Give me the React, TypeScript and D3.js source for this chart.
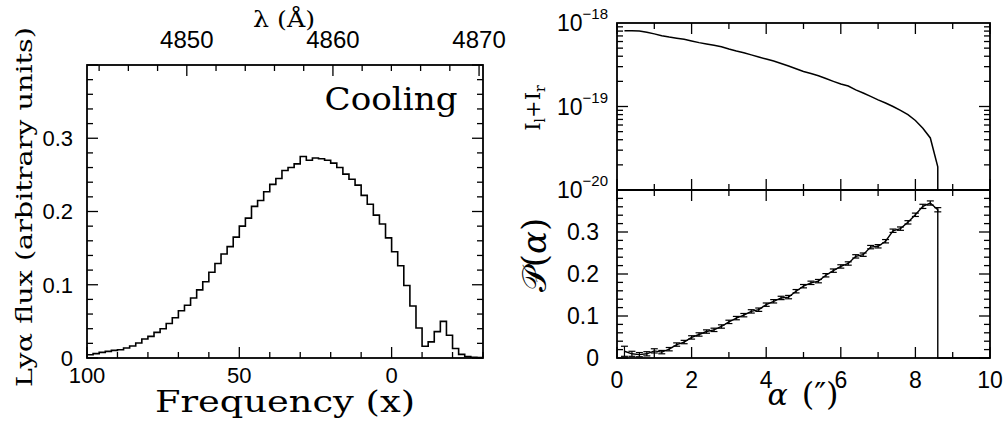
import React from "react";
import * as d3 from "d3";

// ---------- data ----------
// Left panel: Lyα flux histogram, bins of width 2 in x starting at x=100 going down to -30
const FREQ_BIN_EDGES = d3.range(100, -30, -2);
const FREQ_FLUX = [
  0.0045, 0.006, 0.0077, 0.009, 0.0104, 0.0113, 0.0136, 0.0164, 0.0205, 0.026,
  0.0295, 0.035, 0.04, 0.047, 0.055, 0.0645, 0.072, 0.082, 0.093, 0.104,
  0.117, 0.129, 0.142, 0.152, 0.165, 0.18, 0.191, 0.207, 0.215, 0.227,
  0.237, 0.245, 0.256, 0.26, 0.265, 0.275, 0.27, 0.273, 0.272, 0.27,
  0.266, 0.26, 0.251, 0.244, 0.236, 0.222, 0.21, 0.195, 0.183, 0.164,
  0.145, 0.126, 0.099, 0.071, 0.041, 0.016, 0.022, 0.036, 0.05, 0.031,
  0.013, 0.005, 0.002, 0.001, 0.0005,
];
const FREQ_TICK_LABELS = [100, 50, 0];
const LAMBDA_TICK_LABELS = [4850, 4860, 4870];
const FLUX_TICK_LABELS = [0, 0.1, 0.2, 0.3];

// Right panels: alpha grid
const ALPHA = [
  0.2, 0.4, 0.6, 0.8, 1.0, 1.2, 1.4, 1.6, 1.8, 2.0, 2.2, 2.4, 2.6, 2.8, 3.0,
  3.2, 3.4, 3.6, 3.8, 4.0, 4.2, 4.4, 4.6, 4.8, 5.0, 5.2, 5.4, 5.6, 5.8, 6.0,
  6.2, 6.4, 6.6, 6.8, 7.0, 7.2, 7.4, 7.6, 7.8, 8.0, 8.2, 8.4, 8.6,
];
// I_l + I_r (units of 1e-19)
const INTENSITY = [
  8.09, 8.07, 8.02, 7.76, 7.41, 7.05, 6.79, 6.58, 6.38, 6.1, 5.82, 5.6, 5.4, 5.19, 4.88,
  4.62, 4.4, 4.15, 3.91, 3.7, 3.51, 3.27, 3.05, 2.83, 2.63, 2.48, 2.33, 2.16, 2.0, 1.86,
  1.76, 1.58, 1.45, 1.32, 1.2, 1.1, 1.0, 0.9, 0.8, 0.68, 0.55, 0.42, 0.19,
];
const POLARIZATION = [
  0.016, 0.01, 0.008, 0.01, 0.017, 0.014, 0.021, 0.032, 0.038, 0.049, 0.056, 0.063, 0.067, 0.075, 0.086,
  0.095, 0.102, 0.111, 0.115, 0.127, 0.135, 0.143, 0.145, 0.159, 0.171, 0.179, 0.183, 0.197, 0.208, 0.218,
  0.225, 0.242, 0.246, 0.264, 0.266, 0.278, 0.303, 0.308, 0.323, 0.341, 0.361, 0.369, 0.353,
];
const POL_ERR = [
  0.012, 0.006, 0.005, 0.005, 0.005, 0.004, 0.004, 0.004, 0.004, 0.004, 0.004, 0.004, 0.004, 0.004, 0.004,
  0.004, 0.004, 0.004, 0.004, 0.004, 0.004, 0.004, 0.004, 0.004, 0.004, 0.004, 0.004, 0.004, 0.004, 0.004,
  0.004, 0.004, 0.004, 0.004, 0.004, 0.004, 0.004, 0.004, 0.004, 0.004, 0.005, 0.005, 0.005,
];
const ALPHA_TICK_LABELS = [0, 2, 4, 6, 8, 10];
const LOG_TICK_EXPONENTS = [-18, -19, -20];
const POL_TICK_LABELS = [0, 0.1, 0.2, 0.3];

// ---------- layout ----------
const W = 1008;
const H = 421;
const SANS = "Liberation Sans, Arial, sans-serif";
const SERIF = "DejaVu Serif, serif";
const MAJ = 11;
const MIN = 6;

export default function App() {
  // left panel scales
  const xF = d3.scaleLinear().domain([100, -30]).range([87, 483]);
  const yF = d3.scaleLinear().domain([0, 0.4]).range([358, 65]);
  const xL = d3.scaleLinear().domain([4843.17, 4870.27]).range([87, 483]);

  // right panel scales
  const xA = d3.scaleLinear().domain([0, 10]).range([617, 990]);
  const yI = d3.scaleLog().domain([1e-20, 1e-18]).range([190, 23]);
  const yP = d3.scaleLinear().domain([0, 0.4]).range([358, 190]);

  const stroke = "#000";

  // histogram path
  const histPts: [number, number][] = FREQ_FLUX.map((v, i) => [xF(FREQ_BIN_EDGES[i]), yF(v)]);
  histPts.push([xF(-30), yF(FREQ_FLUX[FREQ_FLUX.length - 1])]);
  const histPath = d3.line().curve(d3.curveStepAfter)(histPts) || "";

  // intensity line
  const intPts: [number, number][] = ALPHA.map((a, i) => [xA(a), yI(INTENSITY[i] * 1e-19)]);
  intPts.push([xA(ALPHA[ALPHA.length - 1]), yI(yI.domain()[0])]);
  const intPath = d3.line()(intPts) || "";

  // polarization line (drops to zero after last point and runs along the axis)
  const polPts: [number, number][] = ALPHA.map((a, i) => [xA(a), yP(POLARIZATION[i])]);
  polPts.push([xA(ALPHA[ALPHA.length - 1]), yP(0)]);
  polPts.push([xA(10), yP(0)]);
  const polPath = d3.line()(polPts) || "";

  const lines: JSX.Element[] = [];
  let k = 0;
  const L = (x1: number, y1: number, x2: number, y2: number, w = 1.3) => {
    lines.push(<line key={k++} x1={x1} y1={y1} x2={x2} y2={y2} stroke={stroke} strokeWidth={w} />);
  };

  // ---- left panel ticks ----
  d3.range(-30, 101, 10).forEach((v) => {
    const len = v % 50 === 0 ? MAJ : MIN;
    L(xF(v), 358, xF(v), 358 - len);
  });
  d3.range(4844, 4871, 2).forEach((v) => {
    const len = v % 10 === 0 ? MAJ : MIN;
    L(xL(v), 65, xL(v), 65 + len);
  });
  d3.range(0, 21).forEach((i) => {
    const v = i * 0.02;
    const len = i % 5 === 0 ? MAJ : MIN;
    L(87, yF(v), 87 + len, yF(v));
    L(483, yF(v), 483 - len, yF(v));
  });

  // ---- right panels x ticks ----
  d3.range(0, 11).forEach((v) => {
    const len = v % 2 === 0 ? MAJ : MIN;
    const x = xA(v);
    L(x, 23, x, 23 + len);
    L(x, 190, x, 190 - len);
    L(x, 190, x, 190 + len);
    L(x, 358, x, 358 - len);
  });
  // log ticks
  [-20, -19].forEach((e) => {
    d3.range(1, 10).forEach((m) => {
      const y = yI(m * Math.pow(10, e));
      const len = m === 1 ? MAJ : MIN;
      L(617, y, 617 + len, y);
      L(990, y, 990 - len, y);
    });
  });
  // pol ticks
  d3.range(0, 21).forEach((i) => {
    const v = i * 0.02;
    const len = i % 5 === 0 ? MAJ : MIN;
    L(617, yP(v), 617 + len, yP(v));
    L(990, yP(v), 990 - len, yP(v));
  });

  // error bars
  const errs = ALPHA.map((a, i) => {
    const x = xA(a);
    const y1 = yP(POLARIZATION[i] - POL_ERR[i]);
    const y2 = yP(POLARIZATION[i] + POL_ERR[i]);
    const c = 3.5;
    return (
      <g key={"e" + i} stroke={stroke} strokeWidth={1.2}>
        <line x1={x} y1={y1} x2={x} y2={y2} />
        <line x1={x - c} y1={y1} x2={x + c} y2={y1} />
        <line x1={x - c} y1={y2} x2={x + c} y2={y2} />
      </g>
    );
  });

  return (
    <svg
      width={W}
      height={H}
      style={{ position: "absolute", left: 0, top: 0, background: "#fff" }}
      xmlns="http://www.w3.org/2000/svg"
    >
      <rect x={0} y={0} width={W} height={H} fill="#fff" />
      {/* frames */}
      <rect x={87} y={65} width={396} height={293} fill="none" stroke={stroke} strokeWidth={1.8} />
      <rect x={617} y={23} width={373} height={335} fill="none" stroke={stroke} strokeWidth={1.8} />
      <line x1={617} y1={190} x2={990} y2={190} stroke={stroke} strokeWidth={1.8} />
      {lines}

      {/* data */}
      <path d={histPath} fill="none" stroke={stroke} strokeWidth={1.6} />
      <path d={intPath} fill="none" stroke={stroke} strokeWidth={1.5} />
      <path d={polPath} fill="none" stroke={stroke} strokeWidth={1.4} />
      {errs}

      {/* left panel labels */}
      <g fontFamily={SANS} fontSize={22} fill="#000">
        {FREQ_TICK_LABELS.map((v) => (
          <text key={"f" + v} x={xF(v)} y={383} textAnchor="middle">{v}</text>
        ))}
        {FLUX_TICK_LABELS.map((v) => (
          <text key={"fl" + v} x={73} y={yF(v)} dy="0.36em" textAnchor="end">{v}</text>
        ))}
      </g>
      <g fontFamily={SANS} fontSize={24} fill="#000">
        {LAMBDA_TICK_LABELS.map((v) => (
          <text key={"l" + v} x={xL(v)} y={48} textAnchor="middle">{v}</text>
        ))}
      </g>
      <text x={284} y={27} fontFamily={SERIF} fontSize={23} textAnchor="middle" textLength={62} lengthAdjust="spacingAndGlyphs">λ (Å)</text>
      <text x={285} y={412} fontFamily={SERIF} fontSize={30} textAnchor="middle" textLength={260} lengthAdjust="spacingAndGlyphs">Frequency (x)</text>
      <text x={391} y={110} fontFamily={SERIF} fontSize={32} textAnchor="middle" textLength={133} lengthAdjust="spacingAndGlyphs">Cooling</text>
      <text transform="translate(32,207) rotate(-90)" fontFamily={SERIF} fontSize={22} textAnchor="middle" textLength={360} lengthAdjust="spacingAndGlyphs">Lyα flux (arbitrary units)</text>

      {/* right panel labels */}
      <g fontFamily={SANS} fontSize={23} fill="#000">
        {ALPHA_TICK_LABELS.map((v) => (
          <text key={"a" + v} x={xA(v)} y={388} textAnchor="middle">{v}</text>
        ))}
        {POL_TICK_LABELS.map((v) => (
          <text key={"p" + v} x={599} y={yP(v)} dy="0.36em" textAnchor="end">{v}</text>
        ))}
        {LOG_TICK_EXPONENTS.map((e) => (
          <text key={"i" + e} x={608} y={yI(Math.pow(10, e)) + 8} textAnchor="end">
            10<tspan fontSize={15} dy={-12}>{"\u2212" + Math.abs(e)}</tspan>
          </text>
        ))}
      </g>
      <text x={803} y={405} fontFamily={SERIF} textAnchor="middle" fill="#000">
        <tspan fontSize={30} fontStyle="italic">α</tspan>
        <tspan fontSize={32} dx={14}>(″)</tspan>
      </text>
      <text transform="translate(540,108) rotate(-90)" fontFamily={SERIF} fontSize={21} textAnchor="middle">
        I<tspan fontSize={14} dy={5}>l</tspan><tspan dy={-5}>+I</tspan><tspan fontSize={14} dy={5}>r</tspan>
      </text>
      <text transform="translate(546,255) rotate(-90)" fontFamily={SERIF} fontSize={34} textAnchor="middle">
        𝒫(<tspan fontStyle="italic">α</tspan>)
      </text>
    </svg>
  );
}
